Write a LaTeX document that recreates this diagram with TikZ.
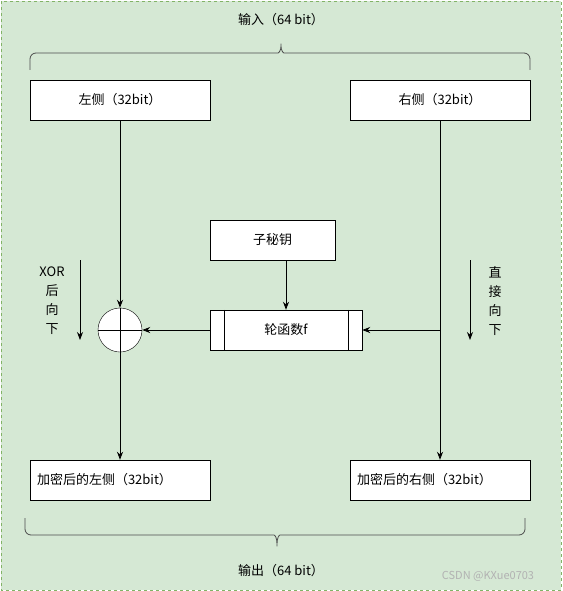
\documentclass[tikz,border=0pt]{standalone}
\usepackage{fontspec}
\setmainfont{Noto Sans CJK SC}
\usetikzlibrary{arrows.meta}
\definecolor{bggreen}{HTML}{D5E8D4}
\definecolor{bgborder}{HTML}{82B366}
\begin{document}
\begin{tikzpicture}[x=1pt,y=-1pt,%
% common options for the boxes:
block/.style = {draw, fill=white, align=center, minimum width=180pt,
            minimum height=40pt, inner sep=0, font=\fontsize{13}{15}\selectfont},
% text without frame:
lbl/.style = {align=center, inner sep=0, font=\fontsize{13}{19}\selectfont},
% arrows and braces:
arr/.style = {-{Stealth[length=8pt,width=6pt]}, line width=0.8pt},
brc/.style = {line width=0.8pt, draw=black!70, rounded corners=6pt}]
\useasboundingbox (0,0) rectangle (562,591);
\draw[bgborder, fill=bggreen, dashed, line width=0.6pt] (1,1) rectangle (561,590);
% input
\node[lbl] (in) at (281,20) {输入（64 bit）};
\coordinate (inL) at (30,70);
\coordinate (inR) at (530,70);
\draw[brc] (inL) |- (272,53) .. controls (279,53) and (281,50) .. (281,40)
  .. controls (281,50) and (283,53) .. (290,53) -| (inR);
\node[block] (L0) at (120,100) {左侧（32bit）};
\node[block] (R0) at (440,100) {右侧（32bit）};
% round
\node[block, minimum width=125pt] (key) at (272.5,240) {子秘钥};
\node[block, minimum width=152pt] (F) at (286,330) {轮函数f};
\draw ([xshift=14pt]F.north west) -- ([xshift=14pt]F.south west);
\draw ([xshift=-14pt]F.north east) -- ([xshift=-14pt]F.south east);
\node[circle, draw, fill=white, minimum size=44pt, inner sep=0] (xor) at (120,330) {};
\draw (xor.north) -- (xor.south);
\draw (xor.west) -- (xor.east);
% output
\node[block, align=left, text width=166pt] (L1) at (120,480) {加密后的左侧（32bit）};
\node[block, align=left, text width=166pt] (R1) at (440,480) {加密后的右侧（32bit）};
\coordinate (outL) at (25,518);
\coordinate (outR) at (525,518);
\draw[brc] (outL) |- (268,535) .. controls (275,535) and (277,538) .. (277,550)
  .. controls (277,538) and (279,535) .. (286,535) -| (outR);
\node[lbl] (out) at (281,571) {输出（64 bit）};
% connections
\coordinate (split) at (440,330);
\draw[arr] (L0.south) -- (xor.north);
\draw[arr] (key.south -| F.north) -- (F.north);
\draw[arr] (F.west) -- (xor.east);
\draw[arr] (xor.south) -- (L1.north);
\draw[arr] (R0.south) -- (R1.north);
\draw[arr] (split) -- (F.east);
% side notes
\coordinate (nl1) at (80,260);
\coordinate (nl2) at (80,340);
\coordinate (nr1) at (470,260);
\coordinate (nr2) at (470,340);
\draw[arr] (nl1) -- (nl2);
\draw[arr] (nr1) -- (nr2);
\node[lbl] (xnote) at (52,301) {XOR\\后\\向\\下};
\node[lbl] (rnote) at (495,301) {直\\接\\向\\下};
\node[lbl, text=black!30, font=\fontsize{11}{12}\selectfont] (wm) at (488,576) {CSDN @KXue0703};
\end{tikzpicture}
\end{document}
